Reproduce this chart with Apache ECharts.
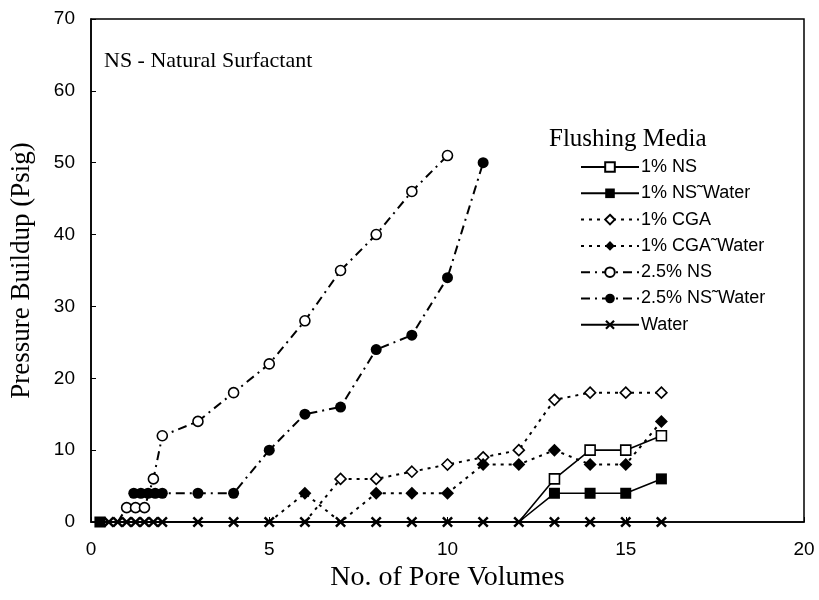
<!DOCTYPE html>
<html>
<head>
<meta charset="utf-8">
<script src="https://cdn.jsdelivr.net/npm/echarts@6/dist/echarts.min.js"></script>
<style>
  html, body { margin: 0; padding: 0; background: #fff; }
  #chart { width: 819px; height: 600px; }
</style>
</head>
<body>
<div id="chart"></div>
<script>
// data (x = pore volumes, y = psig)
var ns1X = [12, 13, 14, 15, 16];
var ns1Y = [0, 6, 10, 10, 12];
var ns1WaterX = [0.25, 12, 13, 14, 15, 16];
var ns1WaterY = [0, 0, 4, 4, 4, 6];
var cga1X = [6, 7, 8, 9, 10, 11, 12, 13, 14, 15, 16];
var cga1Y = [0, 6, 6, 7, 8, 9, 10, 17, 18, 18, 18];
var cga1WaterX = [5, 6, 7, 8, 9, 10, 11, 12, 13, 14, 15, 16];
var cga1WaterY = [0, 4, 0, 4, 4, 4, 8, 8, 10, 8, 8, 14];
var ns25X = [0.75, 1, 1.25, 1.5, 1.75, 2, 3, 4, 5, 6, 7, 8, 9, 10];
var ns25Y = [0, 2, 2, 2, 6, 12, 14, 18, 22, 28, 35, 40, 46, 51];
var ns25WaterX = [1.2, 1.4, 1.6, 1.8, 2, 3, 4, 5, 6, 7, 8, 9, 10, 11];
var ns25WaterY = [4, 4, 4, 4, 4, 4, 4, 10, 15, 16, 24, 26, 34, 50];
var waterX = [0.5, 0.75, 1, 1.25, 1.5, 1.75, 2, 3, 4, 5, 6, 7, 8, 9, 10, 11, 12, 13, 14, 15, 16];
var waterY = [0, 0, 0, 0, 0, 0, 0, 0, 0, 0, 0, 0, 0, 0, 0, 0, 0, 0, 0, 0, 0];

var serif = '"Liberation Serif", "Times New Roman", serif';
var sans = '"Liberation Sans", Arial, sans-serif';
var crossPath = 'path://M0,1.6L1.6,0L5,3.4L8.4,0L10,1.6L6.6,5L10,8.4L8.4,10L5,6.6L1.6,10L0,8.4L3.4,5Z';

// points sitting on the zero line under the Water crosses get no marker
function pairs(xs, ys, hide) {
    return xs.map(function (x, i) {
        var item = { value: [x, ys[i]] };
        if (hide && hide.indexOf(i) >= 0) item.symbol = 'none';
        return item;
    });
}

function mk(name, xs, ys, hide, symbol, filled, dash, size) {
    return {
        name: name,
        type: 'line',
        data: pairs(xs, ys, hide),
        symbol: symbol,
        symbolSize: size,
        showAllSymbol: true,
        lineStyle: { color: '#000', width: dash === 'solid' ? 1.6 : 2, type: dash },
        itemStyle: {
            color: filled ? '#000' : '#fff',
            borderColor: '#000',
            borderWidth: filled ? 0 : 1.6
        },
        emphasis: { disabled: true },
        animation: false
    };
}

var myChart = echarts.init(document.getElementById('chart'));

myChart.setOption({
    backgroundColor: '#fff',
    title: [
        {
            text: 'NS - Natural Surfactant',
            left: 99, top: 45,
            textStyle: { fontFamily: serif, fontSize: 22, fontWeight: 'normal', color: '#000' }
        },
        {
            text: 'Flushing Media',
            left: 544, top: 122,
            textStyle: { fontFamily: serif, fontSize: 25, fontWeight: 'normal', color: '#000' }
        }
    ],
    legend: {
        orient: 'vertical',
        left: 575, top: 153,
        itemWidth: 58, itemHeight: 12,
        itemGap: 8.3,
        textStyle: { fontFamily: sans, fontSize: 18, color: '#000', padding: [0, 0, 0, -3] },
        data: ['1% NS', '1% NS˜Water', '1% CGA', '1% CGA˜Water', '2.5% NS', '2.5% NS˜Water', 'Water']
    },
    grid: {
        left: 90, right: 15, top: 19, bottom: 78,
        show: true, borderColor: '#000', borderWidth: 1.5
    },
    xAxis: {
        type: 'value',
        min: 0, max: 20, interval: 5,
        name: 'No. of Pore Volumes',
        nameLocation: 'middle',
        nameGap: 41,
        nameTextStyle: { fontFamily: serif, fontSize: 28, color: '#000' },
        axisLine: { lineStyle: { color: '#000', width: 1.5 } },
        axisTick: { inside: true, length: 5, lineStyle: { color: '#000' } },
        axisLabel: { fontFamily: sans, fontSize: 19, color: '#000', margin: 18 },
        splitLine: { show: false }
    },
    yAxis: {
        type: 'value',
        min: 0, max: 70, interval: 10,
        name: 'Pressure Buildup (Psig)',
        nameLocation: 'middle',
        nameGap: 56,
        nameTextStyle: { fontFamily: serif, fontSize: 27, color: '#000' },
        axisLine: { lineStyle: { color: '#000', width: 1.5 } },
        axisTick: { inside: true, length: 5, lineStyle: { color: '#000' } },
        axisLabel: { fontFamily: sans, fontSize: 19, color: '#000', margin: 16 },
        splitLine: { show: false }
    },
    series: [
        mk('1% NS', ns1X, ns1Y, [0], 'rect', false, 'solid', 10),
        mk('1% NS˜Water', ns1WaterX, ns1WaterY, [1], 'rect', true, 'solid', 11),
        mk('1% CGA', cga1X, cga1Y, [0], 'diamond', false, [3, 5], 11),
        mk('1% CGA˜Water', cga1WaterX, cga1WaterY, [0, 2], 'diamond', true, [3, 5], 13),
        mk('2.5% NS', ns25X, ns25Y, [0], 'circle', false, [9, 5, 2, 5], 10),
        mk('2.5% NS˜Water', ns25WaterX, ns25WaterY, [], 'circle', true, [9, 5, 2, 5], 11),
        mk('Water', waterX, waterY, [], crossPath, true, 'solid', 11)
    ]
});
</script>
</body>
</html>
